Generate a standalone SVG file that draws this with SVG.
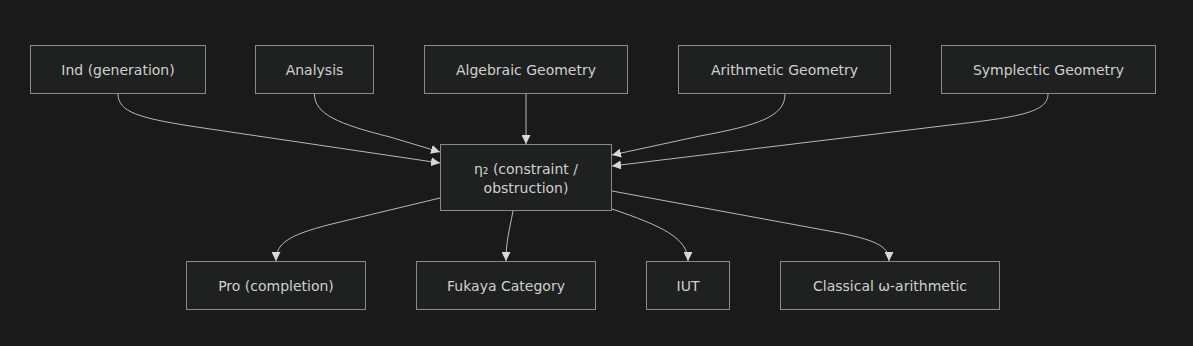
<svg xmlns="http://www.w3.org/2000/svg" width="1193" height="346" viewBox="0 0 1193 346">
<style>
.bg{fill:#1a1a1a}
.node rect{fill:#1f2020;stroke:#8a8a8a;stroke-width:1}
.node text{fill:#d0d0d0;font-family:"DejaVu Sans",sans-serif;font-size:14px;text-anchor:middle;dominant-baseline:central}
.edge{fill:none;stroke:#b8b8b8;stroke-width:1;marker-end:url(#arrow)}
</style>
<defs>
<marker id="arrow" viewBox="0 0 10 10" refX="10" refY="5" markerUnits="userSpaceOnUse" markerWidth="9" markerHeight="9" orient="auto">
<path d="M0,0 L10,5 L0,10 z" fill="#d8d8d8"/>
</marker>
</defs>
<rect class="bg" x="0" y="0" width="1193" height="346"/>
<g id="connectors">
<path class="edge" d="M118,94 C118,112 140,118 190,126 L440,163"/>
<path class="edge" d="M314.5,94 C314.5,114 338,124 390,137 L440,152"/>
<path class="edge" d="M526,94 L526,144"/>
<path class="edge" d="M785,94 C785,116 760,125 700,136 L612,155"/>
<path class="edge" d="M1048,94 C1048,112 1020,117 950,125 L612,166"/>
<path class="edge" d="M440,198 L340,222 C290,234 276,242 276,261"/>
<path class="edge" d="M513,211 C509,232 506,242 506,261"/>
<path class="edge" d="M612,209 C662,226 688,238 688,261"/>
<path class="edge" d="M612,191 L840,233 C880,241 889,248 889,261"/>
</g>
<g id="ind" class="node"><rect x="30.5" y="45.5" width="175" height="48"/><text x="118" y="70">Ind (generation)</text></g>
<g id="analysis" class="node"><rect x="255.5" y="45.5" width="118" height="48"/><text x="314.5" y="70">Analysis</text></g>
<g id="alggeo" class="node"><rect x="424.5" y="45.5" width="203" height="48"/><text x="526" y="70">Algebraic Geometry</text></g>
<g id="arithgeo" class="node"><rect x="678.5" y="45.5" width="212" height="48"/><text x="784.5" y="70">Arithmetic Geometry</text></g>
<g id="sympgeo" class="node"><rect x="941.5" y="45.5" width="214" height="48"/><text x="1048.5" y="70">Symplectic Geometry</text></g>
<g id="eta2" class="node"><rect x="440.5" y="144.5" width="171" height="66"/><text x="526" y="168.5">η₂ (constraint /</text><text x="526" y="187.5">obstruction)</text></g>
<g id="pro" class="node"><rect x="186.5" y="261.5" width="179" height="48"/><text x="276" y="286">Pro (completion)</text></g>
<g id="fukaya" class="node"><rect x="416.5" y="261.5" width="179" height="48"/><text x="506" y="286">Fukaya Category</text></g>
<g id="iut" class="node"><rect x="646.5" y="261.5" width="83" height="48"/><text x="688" y="286">IUT</text></g>
<g id="classical" class="node"><rect x="780.5" y="261.5" width="219" height="48"/><text x="890" y="286">Classical ω-arithmetic</text></g>
</svg>
